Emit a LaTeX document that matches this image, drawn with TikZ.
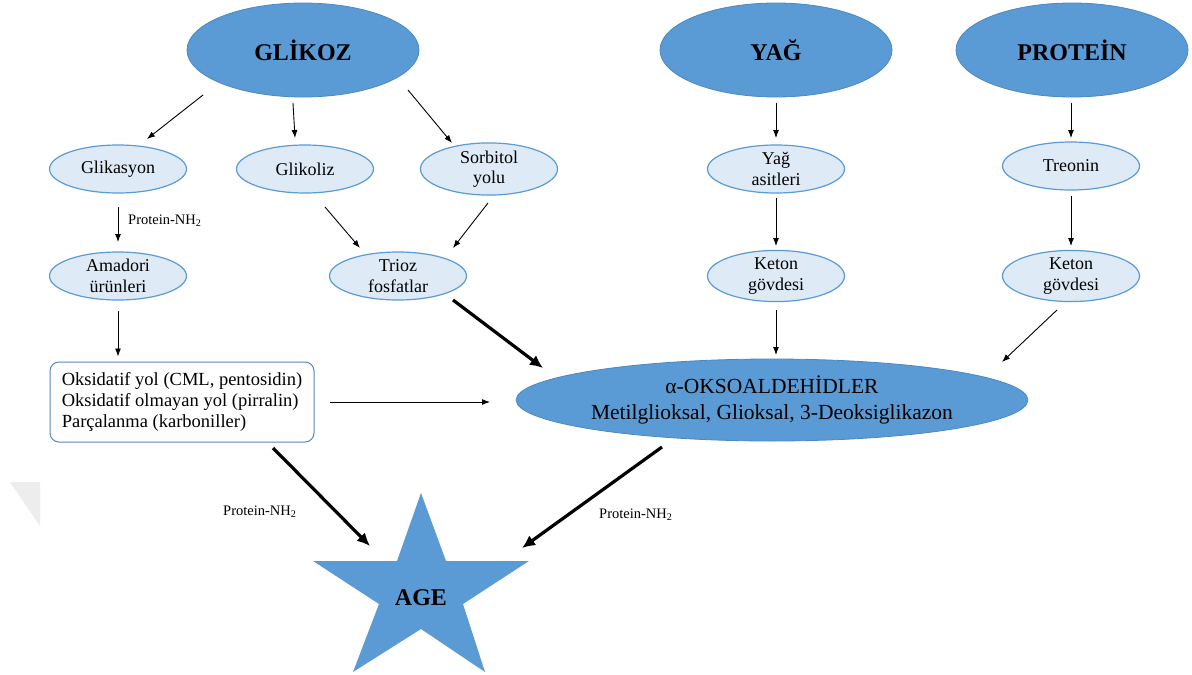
\documentclass[tikz,border=0pt]{standalone}
\usepackage{fontspec}
\setmainfont{Liberation Serif}
\usetikzlibrary{shapes.geometric,arrows.meta}
\definecolor{bigblue}{HTML}{5B9BD5}
\definecolor{bigedge}{HTML}{4A88C4}
\definecolor{paleblue}{HTML}{DEEBF7}
\definecolor{boxedge}{HTML}{5A86B8}
\definecolor{edgeshadow}{HTML}{EDEDED}

\begin{document}
\begin{tikzpicture}[x=1pt,y=-1pt,
  source/.style={ellipse, fill=bigblue, draw=bigedge, line width=0.8pt,
    minimum width=232pt, minimum height=94pt, inner sep=0pt,
    font=\bfseries\fontsize{24}{28}\selectfont},
  stage/.style={ellipse, fill=paleblue, draw=bigblue, line width=1.2pt,
    minimum width=137pt, minimum height=48pt, inner sep=0pt, align=center,
    font=\fontsize{18}{20.5}\selectfont},
  flow/.style={-{Latex[length=8pt,width=6pt]}, line width=0.9pt},
  heavy/.style={-{Latex[length=13pt,width=12pt]}, line width=3.2pt},
  nh/.style={font=\fontsize{14.5}{17}\selectfont, inner sep=0pt, anchor=west}]

\useasboundingbox (0,0) rectangle (1192,675);
\fill[white] (0,0) rectangle (1192,675);

% faint page shadow on the left edge
\fill[edgeshadow] (10,482) -- (40,482) -- (40,526) -- cycle;

% sources
\node[source] (glikoz)  at (303,50)  {GLİKOZ};
\node[source] (yag)     at (776,50)  {YAĞ};
\node[source] (protein) at (1072,50) {PROTEİN};

% intermediate stages
\node[stage] (glikasyon) at (118,169)  {Glikasyon};
\node[stage] (glikoliz)  at (305,169)  {Glikoliz};
\node[stage] (sorbitol)  at (489,169)  {Sorbitol\\yolu};
\node[stage] (amadori)   at (118,276)  {Amadori\\ürünleri};
\node[stage] (trioz)     at (398,276)  {Trioz\\fosfatlar};
\node[stage] (yagasit)   at (776,169)  {Yağ\\asitleri};
\node[stage] (treonin)   at (1071,166) {Treonin};
\node[stage] (keton1)    at (776,276)  {Keton\\gövdesi};
\node[stage] (keton2)    at (1071,276) {Keton\\gövdesi};

% reaction routes box
\node[draw=boxedge, fill=white, rounded corners=9pt, line width=1pt,
  minimum width=264pt, minimum height=80pt, inner sep=0pt, align=left,
  font=\fontsize{18.5}{21}\selectfont] (yollar) at (182,402)
  {Oksidatif yol (CML, pentosidin)\\Oksidatif olmayan yol (pirralin)\\Parçalanma (karboniller)};

% dicarbonyls
\node[ellipse, fill=bigblue, draw=bigedge, line width=0.8pt,
  minimum width=506pt, minimum height=82pt, inner sep=0pt, align=center,
  font=\fontsize{21.5}{26}\selectfont] (okso) at (772,400)
  {α-OKSOALDEHİDLER\\Metilglioksal, Glioksal, 3-Deoksiglikazon};

% AGE star
\coordinate (star) at (421,590);
\fill[bigblue] (421,493) -- (446,561) -- (529,561) -- (463,604) -- (485,672)
  -- (421,629) -- (353,672) -- (379,604) -- (313,561) -- (397,561) -- cycle;
\node[font=\bfseries\fontsize{24}{28}\selectfont, inner sep=0pt] (age) at (421,598) {AGE};

% glucose routes
\draw[flow] ([shift={(-100,45)}]glikoz.center) -- ([shift={(29,-30)}]glikasyon.center);
\draw[flow] ([shift={(-10,53)}]glikoz.center) -- ([shift={(-10,-31)}]glikoliz.center);
\draw[flow] ([shift={(105,40)}]glikoz.center) -- ([shift={(-37,-26)}]sorbitol.center);
\draw[flow] ([shift={(0,38)}]glikasyon.center) -- ([shift={(0,-34)}]amadori.center);
\node[nh] (nh1) at (128,221) {Protein-NH\textsubscript{2}};
\draw[flow] ([shift={(20,38)}]glikoliz.center) -- ([shift={(-38,-28)}]trioz.center);
\draw[flow] ([shift={(-1,34)}]sorbitol.center) -- ([shift={(55,-28)}]trioz.center);
\draw[flow] ([shift={(0,35)}]amadori.center) -- ([shift={(-64,-5)}]yollar.north);
\draw[heavy] ([shift={(55,24)}]trioz.center) -- ([shift={(-229,-32)}]okso.center);
\draw[flow] ([shift={(148,0)}]yollar.center) -- ([shift={(-282,2)}]okso.center);

% fat and protein routes
\draw[flow] ([shift={(0,53)}]yag.center) -- ([shift={(0,-31)}]yagasit.center);
\draw[flow] ([shift={(0,29)}]yagasit.center) -- ([shift={(0,-30)}]keton1.center);
\draw[flow] ([shift={(0,34)}]keton1.center) -- ([shift={(4,-45)}]okso.center);
\draw[flow] ([shift={(-1,53)}]protein.center) -- ([shift={(0,-28)}]treonin.center);
\draw[flow] ([shift={(0,30)}]treonin.center) -- ([shift={(0,-30)}]keton2.center);
\draw[flow] ([shift={(-14,34)}]keton2.center) -- ([shift={(230,-38)}]okso.center);

% towards AGE
\draw[heavy] ([shift={(91,46)}]yollar.center) -- ([shift={(-51,-44)}]star);
\node[nh] (nh2) at (223,512) {Protein-NH\textsubscript{2}};
\draw[heavy] ([shift={(-110,47)}]okso.center) -- ([shift={(101,-42)}]star);
\node[nh] (nh3) at (599,515) {Protein-NH\textsubscript{2}};
\end{tikzpicture}
\end{document}
